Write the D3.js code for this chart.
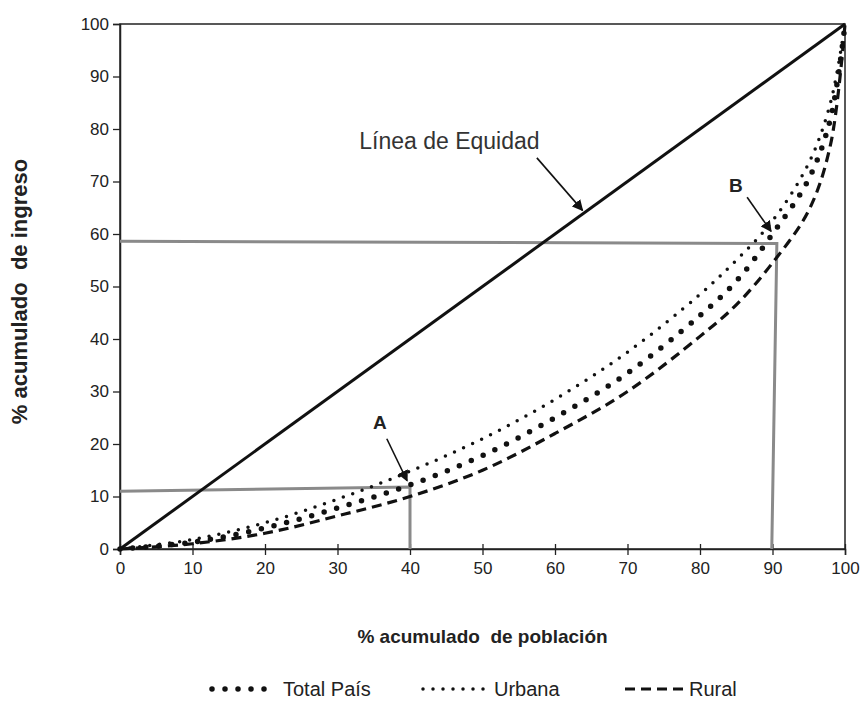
<!DOCTYPE html>
<html>
<head>
<meta charset="utf-8">
<script src="https://cdn.jsdelivr.net/npm/d3@7"></script>
<style>
  body { margin: 0; background: #fff; }
  text { font-family: "Liberation Sans", Arial, sans-serif; }
</style>
</head>
<body>
<script>
// Lorenz curves
const pobl = [0, 10, 20, 30, 40, 50, 60, 70, 80, 85, 90, 95, 98, 100];
const urbana = [0, 1.8, 5, 9.5, 14.8, 21, 28.5, 37.5, 48.5, 55, 62.5, 73.5, 85, 100];
const totalPais = [0, 1.3, 4, 7.8, 12.2, 17.8, 25, 33.5, 44.5, 51, 60, 70.5, 82, 100];
const rural = [0, 1, 3, 6.3, 10, 15, 22, 30, 40.5, 46.5, 54.5, 64.5, 77, 100];

const equidad = [[0, 0], [100, 100]];
// reference lines for points A and B
const refA = [[0, 11], [40, 11.8], [40, 0]];
const refB = [[0, 58.6], [90.6, 58.2], [89.9, 0]];

const xTicks = d3.range(0, 101, 10);
const yTicks = d3.range(0, 101, 10);

const margin = { top: 24, right: 19, bottom: 161, left: 120 };
const W = 864, H = 710;
const width = W - margin.left - margin.right;
const height = H - margin.top - margin.bottom;

const svg = d3.select('body').append('svg')
    .attr('width', W)
    .attr('height', H);

svg.append('rect').attr('width', W).attr('height', H).attr('fill', 'white');

const defs = svg.append('defs');
defs.append('marker')
    .attr('id', 'arrow')
    .attr('viewBox', '0 0 10 10')
    .attr('refX', 9).attr('refY', 5)
    .attr('markerWidth', 7).attr('markerHeight', 7)
    .attr('markerUnits', 'strokeWidth')
    .attr('orient', 'auto')
    .append('path')
    .attr('d', 'M0,0 L10,5 L0,10 z')
    .attr('fill', '#111');

const g = svg.append('g').attr('transform', `translate(${margin.left},${margin.top})`);

const x = d3.scaleLinear().domain([0, 100]).range([0, width]);
const y = d3.scaleLinear().domain([0, 100]).range([height, 0]);

// frame
g.append('rect')
    .attr('width', width).attr('height', height)
    .attr('fill', 'none').attr('stroke', '#222').attr('stroke-width', 1.5);

// axes
const yAxis = g.append('g')
    .call(d3.axisLeft(y).tickValues(yTicks).tickSize(7).tickPadding(4));
const xAxis = g.append('g')
    .attr('transform', `translate(0,${height})`)
    .call(d3.axisBottom(x).tickValues(xTicks).tickSize(6).tickPadding(7));
xAxis.selectAll('.tick line').attr('y1', -5);
[xAxis, yAxis].forEach(a => {
    a.select('.domain').attr('stroke', '#222').attr('stroke-width', 1.5);
    a.selectAll('.tick line').attr('stroke', '#222').attr('stroke-width', 1.3);
    a.selectAll('text').attr('font-size', 17).attr('fill', '#222')
        .style('font-family', '"Liberation Sans", Arial, sans-serif');
});

const line = d3.line().x(d => x(d[0])).y(d => y(d[1]));
const curve = d3.line().x(d => x(d[0])).y(d => y(d[1])).curve(d3.curveCatmullRom.alpha(0.5));

// gray reference lines
[refA, refB].forEach(r => {
    g.append('path').attr('d', line(r))
        .attr('fill', 'none').attr('stroke', '#8a8a8a').attr('stroke-width', 3);
});

// equity line
g.append('path').attr('d', line(equidad))
    .attr('fill', 'none').attr('stroke', '#111').attr('stroke-width', 3);

const series = [
    { name: 'Total País', values: totalPais, dash: '0 13', width: 5.5, cap: 'round' },
    { name: 'Urbana', values: urbana, dash: '0 10', width: 3.5, cap: 'round' },
    { name: 'Rural', values: rural, dash: '10 6', width: 3.2, cap: 'butt' }
];

series.forEach(s => {
    g.append('path')
        .attr('d', curve(pobl.map((p, i) => [p, s.values[i]])))
        .attr('fill', 'none')
        .attr('stroke', '#111')
        .attr('stroke-width', s.width)
        .attr('stroke-dasharray', s.dash)
        .attr('stroke-linecap', s.cap);
});

// annotations
function arrow(x1, y1, x2, y2) {
    g.append('line')
        .attr('x1', x(x1)).attr('y1', y(y1))
        .attr('x2', x(x2)).attr('y2', y(y2))
        .attr('stroke', '#111').attr('stroke-width', 1.6)
        .attr('marker-end', 'url(#arrow)');
}

g.append('text')
    .attr('x', x(33)).attr('y', y(76.2))
    .attr('font-size', 23).attr('fill', '#333')
    .text('Línea de Equidad');
arrow(57.5, 74.5, 63.8, 64.5);

g.append('text')
    .attr('x', x(34.9)).attr('y', y(22.8))
    .attr('font-size', 19).attr('font-weight', 'bold').attr('fill', '#222')
    .text('A');
arrow(36.8, 21, 39.6, 13);

g.append('text')
    .attr('x', x(84)).attr('y', y(68))
    .attr('font-size', 19).attr('font-weight', 'bold').attr('fill', '#222')
    .text('B');
arrow(86.5, 67, 89.8, 60.5);

// axis titles
svg.append('text')
    .attr('x', margin.left + width / 2).attr('y', 643)
    .attr('text-anchor', 'middle')
    .attr('font-size', 19).attr('font-weight', 'bold').attr('fill', '#222')
    .style('white-space', 'pre')
    .text('% acumulado  de población');

svg.append('text')
    .attr('transform', `translate(27,${margin.top + height / 2 + 5}) rotate(-90)`)
    .attr('text-anchor', 'middle')
    .attr('font-size', 22).attr('font-weight', 'bold').attr('fill', '#222')
    .style('white-space', 'pre')
    .text('% acumulado  de ingreso');

// legend
const legend = svg.append('g').attr('transform', 'translate(0,690)');
const legendX = [212, 423, 625];
const legendText = [283, 494, 689];
series.forEach((s, i) => {
    legend.append('line')
        .attr('x1', legendX[i]).attr('x2', legendX[i] + 64)
        .attr('y1', -1).attr('y2', -1)
        .attr('stroke', '#111')
        .attr('stroke-width', s.width)
        .attr('stroke-dasharray', s.dash)
        .attr('stroke-linecap', s.cap);
    legend.append('text')
        .attr('x', legendText[i]).attr('y', 6)
        .attr('font-size', 20).attr('fill', '#222')
        .text(s.name);
});
</script>
</body>
</html>
